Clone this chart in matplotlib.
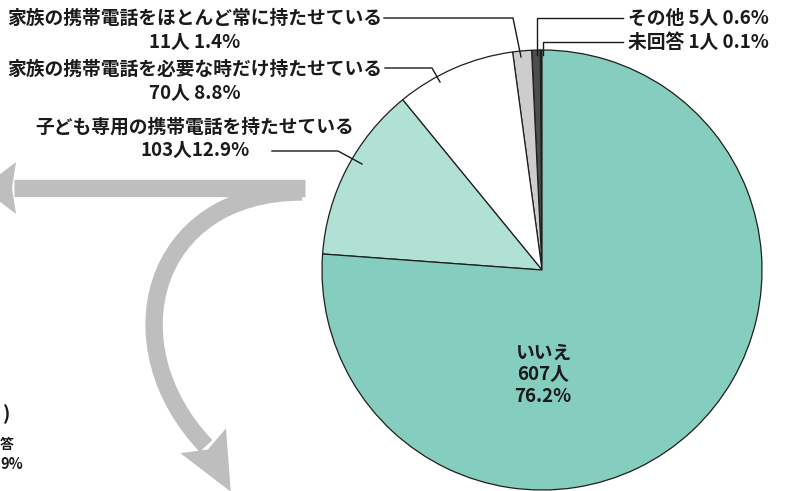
import numpy as np
import matplotlib.pyplot as plt
from matplotlib.path import Path
from matplotlib.patches import PathPatch, Polygon

plt.rcParams['font.family'] = ['Noto Sans CJK JP', 'DejaVu Sans']

W, H = 786, 491

# slices, counter-clockwise from 12 o'clock
names = ['未回答', 'その他', '家族の携帯電話をほとんど常に持たせている',
         '家族の携帯電話を必要な時だけ持たせている', '子ども専用の携帯電話を持たせている', 'いいえ']
counts = [1, 5, 11, 70, 103, 607]
pcts = ['0.1%', '0.6%', '1.4%', '8.8%', '12.9%', '76.2%']
colors = ['#2b2b2b', '#4d4d4d', '#cdcdcd', '#ffffff', '#b1e0d4', '#85cdbe']


def px(x, y):
    # picture coordinates (y down) -> axes coordinates
    return (x, H - y)


fig = plt.figure(figsize=(W / 100, H / 100), dpi=100)
ax = fig.add_axes([0, 0, 1, 1])

# grey arrows behind the chart
grey = '#bebebe'
shaft = Path([px(305, 188), px(14, 188)])
ax.add_patch(PathPatch(shaft, fc='none', ec=grey, lw=12.5, capstyle='butt'))
ax.add_patch(Polygon([px(-18, 188), px(16, 162), px(12, 188), px(16, 214)],
                     closed=True, fc=grey, ec='none'))

p0, p1, p2, p3 = [np.array(px(*p)) for p in [(302, 192), (150, 192), (110, 345), (206, 446)]]
curve = Path([p0, p1, p2, p3], [Path.MOVETO, Path.CURVE4, Path.CURVE4, Path.CURVE4])
ax.add_patch(PathPatch(curve, fc='none', ec=grey, lw=12.5, capstyle='butt'))
d = np.array(px(238, 505)) - p3
d = d / np.hypot(*d)
n = np.array([-d[1], d[0]])
tip = p3 + d * 52
ax.add_patch(Polygon([tip, p3 + n * 26 - d * 6, p3 + d * 4, p3 - n * 26 - d * 6],
                     closed=True, fc=grey, ec='none'))

# pie
ax.pie(counts, colors=colors, startangle=90, counterclock=True,
       radius=220, center=px(542, 270),
       wedgeprops=dict(edgecolor='#1e1e1e', linewidth=0.9))

fs = 13.5
kw = dict(fontsize=fs, fontweight='bold', color='#1a1a1a')

# inside label
ax.text(*px(543, 375), f'{names[5]}\n{counts[5]}人\n{pcts[5]}',
        ha='center', va='center', linespacing=1.15, **kw)

# labels on the right
ax.text(*px(628, 18), f'{names[1]} {counts[1]}人 {pcts[1]}', ha='left', va='center', **kw)
ax.text(*px(628, 42), f'{names[0]} {counts[0]}人 {pcts[0]}', ha='left', va='center', **kw)

# labels on the left
ax.text(*px(195, 18), names[2], ha='center', va='center', **kw)
ax.text(*px(195, 42), f'{counts[2]}人 {pcts[2]}', ha='center', va='center', **kw)
ax.text(*px(195, 69), names[3], ha='center', va='center', **kw)
ax.text(*px(195, 93), f'{counts[3]}人 {pcts[3]}', ha='center', va='center', **kw)
ax.text(*px(195, 127), names[4], ha='center', va='center', **kw)
ax.text(*px(195, 150), f'{counts[4]}人{pcts[4]}', ha='center', va='center', **kw)

# leader lines
lk = dict(color='#1a1a1a', lw=1.0)
for pts in [[(623, 18), (537, 18), (537, 55)],
            [(623, 42), (543, 42), (543, 55)],
            [(384, 18), (513, 18), (521, 57)],
            [(385, 68), (432, 68), (440, 82)],
            [(272, 151), (338, 151), (362, 164)]]:
    xs, ys = zip(*[px(*p) for p in pts])
    ax.plot(xs, ys, **lk)

# fragments of a text that sits mostly outside the picture
small = dict(fontweight='bold', color='#1a1a1a', va='center', ha='left')
ax.text(*px(3, 414), ')', fontsize=14, **small)
ax.text(*px(0, 445), '答', fontsize=10, **small)
ax.text(*px(0, 464), '9%', fontsize=10.5, **small)

ax.set_xlim(0, W)
ax.set_ylim(0, H)
ax.set_aspect('equal')
ax.axis('off')

fig.savefig('out.png', dpi=100)
